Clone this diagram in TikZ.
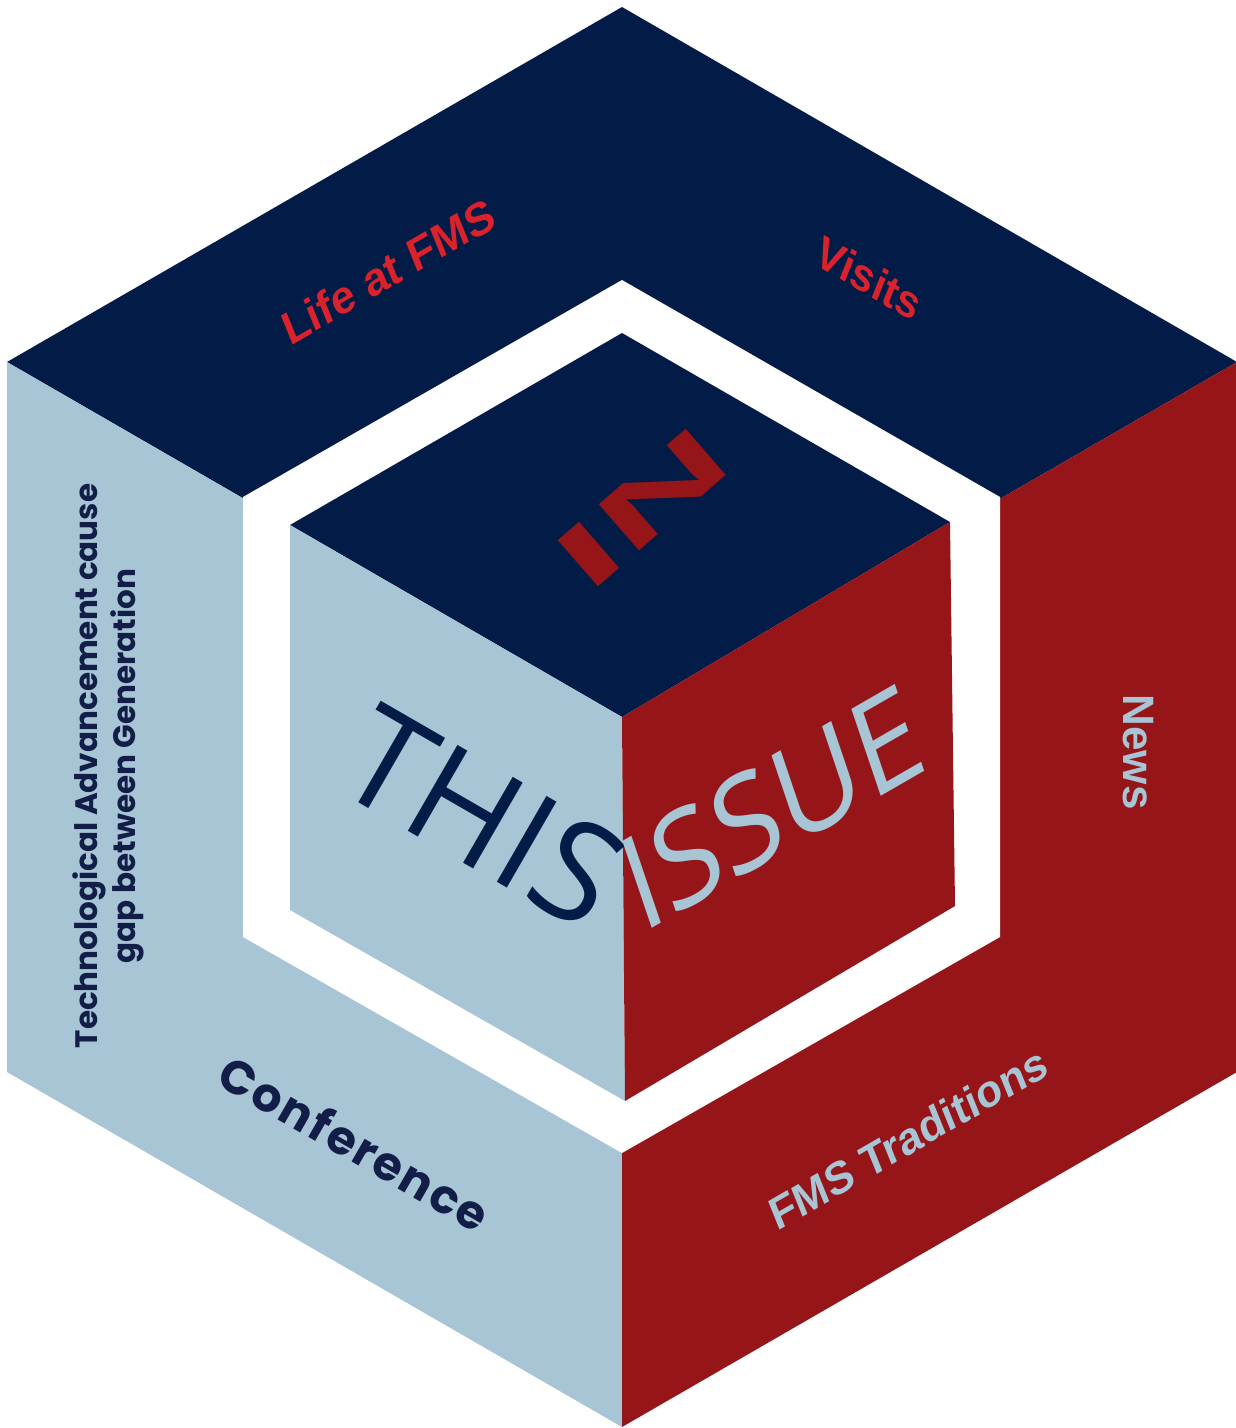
\documentclass[tikz,border=0pt]{standalone}
\usepackage{fontspec}
\setmainfont{Liberation Sans}
\newfontfamily\popfont{Poppins}
\newfontfamily\opfont{Open Sans}
\usepackage{tikz}
\definecolor{navy}{RGB}{2,27,71}
\definecolor{cubered}{RGB}{150,21,25}
\definecolor{paleblue}{RGB}{168,197,213}
\definecolor{textred}{RGB}{218,34,44}
\definecolor{textnavy}{RGB}{18,29,72}

\begin{document}
\begin{tikzpicture}[x=1pt,y=-1pt,
	facetext/.style={inner sep=0, font=\bfseries\fontsize{#1}{#1}\selectfont},
	bigtext/.style={inner sep=0, anchor=base west, font=\opfont\fontsize{#1}{#1}\selectfont}]
	\useasboundingbox (0,0) rectangle (1236,1428);
	
	\coordinate (C) at (622,717);
	\coordinate (OT) at (622,7);
	\coordinate (OUR) at (1237,362);
	\coordinate (OLR) at (1237,1072);
	\coordinate (OB) at (622,1427);
	\coordinate (OLL) at (7,1072);
	\coordinate (OUL) at (7,362);
	
	\fill[navy] (OUL) -- (OT) -- (OUR) -- (C) -- cycle;
	\fill[paleblue] (OUL) -- (C) -- (OB) -- (OLL) -- cycle;
	\fill[cubered] (OUR) -- (C) -- (OB) -- (OLR) -- cycle;
	
	\fill[white] (622,280) -- (1000,497) -- (1000,937) -- (622,1153) -- (243,937) -- (243,497) -- cycle;
	
	\coordinate (IT) at (622,333);
	\coordinate (IUR) at (950,522);
	\coordinate (ILR) at (955,906);
	\coordinate (IB) at (625,1101);
	\coordinate (ILL) at (290,910);
	\coordinate (IUL) at (290,525);
	
	\fill[navy] (IUL) -- (IT) -- (IUR) -- (C) -- cycle;
	\fill[paleblue] (IUL) -- (C) -- (IB) -- (ILL) -- cycle;
	\fill[cubered] (IUR) -- (C) -- (IB) -- (ILR) -- cycle;
	
	\node[facetext=45, textred, rotate=30, xslant=0.14] (life) at (388,271) {Life at FMS};
	\node[facetext=44, textred, rotate=-30, xslant=-0.14] (visits) at (869,278) {Visits};
	\node[facetext=44, paleblue, rotate=-90] (news) at (1138,752) {News};
	\node[facetext=44, paleblue, rotate=30, xslant=0.14] (trad) at (908,1138) {FMS Traditions};
	\node[inner sep=0, textnavy, rotate=-30, font=\popfont\bfseries\fontsize{47}{47}\selectfont\addfontfeatures{LetterSpace=5}] (conf) at (355,1143) {Conference};
	\node[inner sep=0, textnavy, rotate=90, align=center, font=\popfont\bfseries\fontsize{31}{38}\selectfont] (tech) at (108,766) {Technological Advancement cause\\gap between Generation};
	
	\node[inner sep=0, cubered, rotate=41, xscale=2.2, font=\bfseries\fontsize{89}{89}\selectfont] (in) at (642,508) {IN};
	\node[bigtext=139, navy, rotate=-30] (this) at (330,786) {THIS};
	\node[bigtext=126, paleblue, rotate=30, xslant=0.2] (issue) at (641,935) {ISSUE};
\end{tikzpicture}
\end{document}
